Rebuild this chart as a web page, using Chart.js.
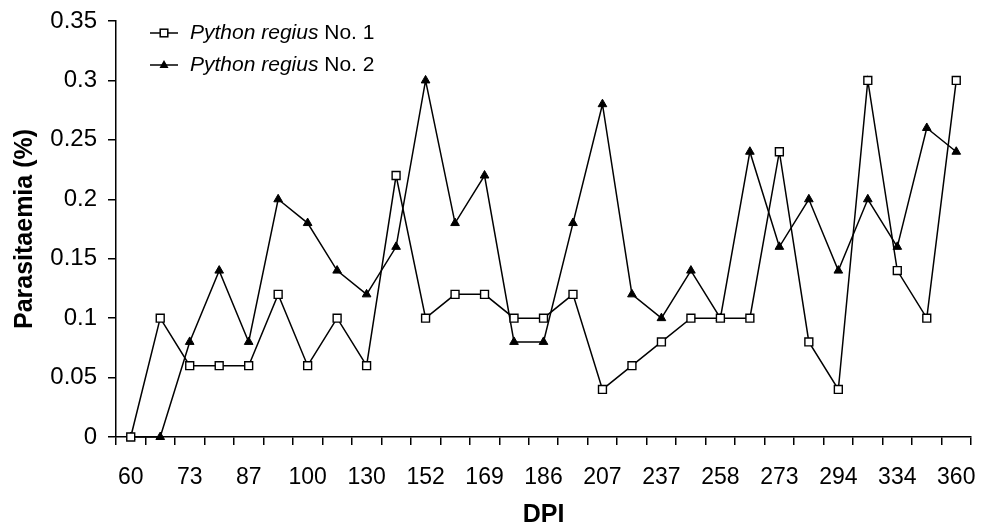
<!DOCTYPE html>
<html>
<head>
<meta charset="utf-8">
<script src="https://cdn.jsdelivr.net/npm/chart.js@4.4.1/dist/chart.umd.min.js"></script>
<style>
  html, body { margin: 0; padding: 0; background: #ffffff; }
  #wrap { width: 983px; height: 528px; position: relative; }
</style>
</head>
<body>
<div id="wrap"><canvas id="c" width="983" height="528"></canvas></div>
<script>
// DPI categories (only every other one is labelled in the figure)
const dpiLabels = ['60','', '73','', '87','', '100','', '130','', '152','', '169','', '186','',
                   '207','', '237','', '258','', '273','', '294','', '334','', '360'];
const seriesNames = ['Python regius No. 1', 'Python regius No. 2'];
const pythonNo1 = [0, 0.10, 0.06, 0.06, 0.06, 0.12, 0.06, 0.10, 0.06, 0.22, 0.10, 0.12, 0.12, 0.10, 0.10,
                   0.12, 0.04, 0.06, 0.08, 0.10, 0.10, 0.10, 0.24, 0.08, 0.04, 0.30, 0.14, 0.10, 0.30];
const pythonNo2 = [0, 0, 0.08, 0.14, 0.08, 0.20, 0.18, 0.14, 0.12, 0.16, 0.30, 0.18, 0.22, 0.08, 0.08,
                   0.18, 0.28, 0.12, 0.10, 0.14, 0.10, 0.24, 0.16, 0.20, 0.14, 0.20, 0.16, 0.26, 0.24];
const yMin = 0, yMax = 0.35, yStep = 0.05;

const FONT = "'Liberation Sans', Arial, sans-serif";

const legendPlugin = {
  id: 'insideLegend',
  afterDraw(chart) {
    const ctx = chart.ctx;
    const rows = [
      { y: 33, style: 'rect' },
      { y: 65, style: 'triangle' }
    ];
    ctx.save();
    rows.forEach((r, i) => {
      ctx.strokeStyle = '#000';
      ctx.lineWidth = 1.5;
      ctx.beginPath();
      ctx.moveTo(150, r.y);
      ctx.lineTo(178, r.y);
      ctx.stroke();
      const cx = 164;
      if (r.style === 'rect') {
        ctx.fillStyle = '#fff';
        ctx.fillRect(cx - 3.8, r.y - 3.8, 7.6, 7.6);
        ctx.strokeRect(cx - 3.8, r.y - 3.8, 7.6, 7.6);
      } else {
        ctx.fillStyle = '#000';
        ctx.beginPath();
        ctx.moveTo(cx, r.y - 5);
        ctx.lineTo(cx + 4.5, r.y + 3);
        ctx.lineTo(cx - 4.5, r.y + 3);
        ctx.closePath();
        ctx.fill();
      }
      const name = seriesNames[i];
      const italicPart = 'Python regius';
      const rest = name.slice(italicPart.length);
      ctx.fillStyle = '#000';
      ctx.textBaseline = 'middle';
      ctx.textAlign = 'left';
      ctx.font = 'italic 21px ' + FONT;
      ctx.fillText(italicPart, 190, r.y);
      const w = ctx.measureText(italicPart).width;
      ctx.font = '21px ' + FONT;
      ctx.fillText(rest, 190 + w, r.y);
    });
    ctx.restore();
  }
};

new Chart(document.getElementById('c'), {
  type: 'line',
  data: {
    labels: dpiLabels,
    datasets: [
      {
        label: seriesNames[0],
        data: pythonNo1,
        borderColor: '#000',
        borderWidth: 1.5,
        pointStyle: 'rect',
        pointRadius: 5.6,
        pointBackgroundColor: '#fff',
        pointBorderColor: '#000',
        pointBorderWidth: 1.4,
        tension: 0,
        clip: false
      },
      {
        label: seriesNames[1],
        data: pythonNo2,
        borderColor: '#000',
        borderWidth: 1.5,
        pointStyle: 'triangle',
        pointRadius: 5,
        pointBackgroundColor: '#000',
        pointBorderColor: '#000',
        pointBorderWidth: 1,
        tension: 0,
        clip: false
      }
    ]
  },
  options: {
    responsive: false,
    animation: false,
    layout: { padding: { left: 0, right: 12, top: 21, bottom: 0 } },
    plugins: {
      legend: { display: false },
      tooltip: { enabled: false }
    },
    scales: {
      x: {
        type: 'category',
        offset: true,
        grid: { offset: true, drawOnChartArea: false, drawTicks: true, tickLength: 8, color: '#000', lineWidth: 1.5 },
        border: { color: '#000', width: 1.5 },
        ticks: {
          autoSkip: false, maxRotation: 0, minRotation: 0,
          color: '#000', padding: 19,
          font: { family: FONT, size: 23 }
        },
        title: {
          display: true, text: 'DPI', color: '#000',
          font: { family: FONT, size: 25, weight: 'bold', lineHeight: 1.0 },
          padding: { top: 0, bottom: 0 }
        },
        afterFit(scale) { scale.height = 91; scale.paddingLeft = 0; scale.paddingRight = 0; }
      },
      y: {
        min: yMin, max: yMax,
        grid: { drawOnChartArea: false, drawTicks: true, tickLength: 8, color: '#000', lineWidth: 1.5 },
        border: { color: '#000', width: 1.5 },
        ticks: {
          stepSize: yStep, color: '#000', padding: 11,
          font: { family: FONT, size: 24 },
          callback: (v) => String(Math.round(v * 100) / 100)
        },
        title: {
          display: true, text: 'Parasitaemia (%)', color: '#000',
          font: { family: FONT, size: 25, weight: 'bold', lineHeight: 1.2 },
          padding: { top: 10, bottom: 0 }
        },
        afterFit(scale) { scale.width = 116; scale.paddingTop = 0; scale.paddingBottom = 0; }
      }
    }
  },
  plugins: [legendPlugin]
});
</script>
</body>
</html>
